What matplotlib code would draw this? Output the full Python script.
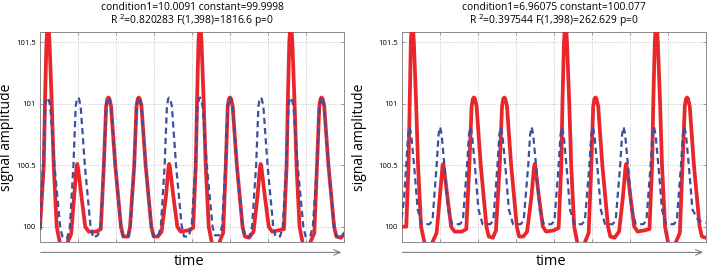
import numpy as np
import matplotlib
matplotlib.use('Agg')
import matplotlib.pyplot as plt

plt.rcParams['font.family'] = ['Open Sans', 'DejaVu Sans']

# ---- data: (sample index, signal value) vertices ----
# left panel, measured signal (red)
left_red = [(0, 99.99), (5, 100.5), (6.5, 101.0), (8.5, 101.5), (10.5, 101.7), (12.5, 101.5),
            (15.5, 101.0), (18, 100.5), (22, 100.0), (27, 99.84), (34, 99.84), (41, 99.94),
            (45, 100.25), (48, 100.48), (49, 100.51), (50, 100.48), (54.5, 100.25), (59.5, 100.0),
            (64, 99.96), (74, 99.96), (80, 99.98),
            (84, 100.5), (87, 100.98), (88.7, 101.04), (90, 101.05), (91.3, 101.04), (93.5, 100.98),
            (99, 100.5), (106.5, 100.0), (109.5, 99.92), (116, 99.92), (118.5, 100.0),
            (124, 100.5), (127, 100.98), (128.7, 101.04), (130, 101.05), (131.3, 101.04), (133.5, 100.98),
            (139, 100.5), (146.5, 100.0), (149.5, 99.92), (155, 99.92), (160, 99.96),
            (165.8, 100.25), (169, 100.48), (170, 100.51), (171, 100.48), (175.4, 100.25), (180.7, 100.0),
            (185, 99.96), (195, 99.97), (201.5, 99.99),
            (205, 100.5), (206.5, 101.0), (208.5, 101.5), (210.5, 101.7), (212.5, 101.5), (215.5, 101.0),
            (218, 100.5), (222, 100.0), (227, 99.84), (234, 99.84), (241, 99.95),
            (244.5, 100.5), (247, 100.98), (248.7, 101.04), (250, 101.05), (251.3, 101.04), (253.5, 100.98),
            (259, 100.5), (266.5, 100.0), (269.5, 99.92), (275, 99.91), (281, 99.96),
            (286.2, 100.25), (289.4, 100.48), (290.4, 100.51), (291.4, 100.48), (295.8, 100.25), (301, 100.0),
            (305.5, 99.96), (314, 99.97), (321, 99.98),
            (324.5, 100.5), (326, 101.0), (328, 101.5), (330, 101.7), (332, 101.5), (335, 101.0),
            (337.5, 100.5), (341.5, 100.0), (346.5, 99.84), (353.5, 99.84), (361, 99.95),
            (364.5, 100.5), (367.5, 100.98), (369.2, 101.04), (370.5, 101.05), (371.8, 101.04), (374, 100.98),
            (379.5, 100.5), (387, 100.0), (390, 99.92), (396, 99.91), (400, 99.94)]

# left panel, model fit (blue dashed)
left_fit = [(0, 99.99), (4, 100.5), (7, 100.98), (8.7, 101.04), (10, 101.05), (11.3, 101.04), (13.5, 100.98),
            (19, 100.5), (26.5, 100.0), (29.5, 99.92), (35, 99.9), (39, 99.97),
            (44, 100.5), (47, 100.98), (48.7, 101.04), (50, 101.05), (51.3, 101.04), (53.5, 100.98),
            (59, 100.5), (66.5, 100.0), (70, 99.91), (76, 99.93), (79.5, 99.99),
            (84, 100.5), (87, 100.98), (88.7, 101.04), (90, 101.05), (91.3, 101.04), (93.5, 100.98),
            (99, 100.5), (106.5, 100.0), (109.5, 99.92), (115.5, 99.92), (119, 100.0),
            (124, 100.5), (127, 100.98), (128.7, 101.04), (130, 101.05), (131.3, 101.04), (133.5, 100.98),
            (139, 100.5), (146.5, 100.0), (149.5, 99.92), (155.5, 99.92), (159, 100.0),
            (164, 100.5), (167, 100.98), (168.7, 101.04), (170, 101.05), (171.3, 101.04), (173.5, 100.98),
            (179, 100.5), (186.5, 100.0), (189.5, 99.92), (195.5, 99.92), (199.5, 100.0),
            (204.5, 100.5), (207.5, 100.98), (209.2, 101.04), (210.5, 101.05), (211.8, 101.04), (214, 100.98),
            (219.5, 100.5), (227, 100.0), (230, 99.93), (236, 99.93), (239.5, 100.0),
            (244, 100.5), (247, 100.98), (248.7, 101.04), (250, 101.05), (251.3, 101.04), (253.5, 100.98),
            (259, 100.5), (266.5, 100.0), (269.5, 99.92), (275.5, 99.92), (279, 100.0),
            (284.4, 100.5), (287.4, 100.98), (289.1, 101.04), (290.4, 101.05), (291.7, 101.04), (293.9, 100.98),
            (299.4, 100.5), (306.9, 100.0), (309.9, 99.92), (315.9, 99.92), (319.4, 100.0),
            (324, 100.5), (327, 100.98), (328.7, 101.04), (330, 101.05), (331.3, 101.04), (333.5, 100.98),
            (339, 100.5), (346.5, 100.0), (349.5, 99.92), (355.5, 99.92), (359, 100.0),
            (364.5, 100.5), (367.5, 100.98), (369.2, 101.04), (370.5, 101.05), (371.8, 101.04), (374, 100.98),
            (379.5, 100.5), (387, 100.0), (390, 99.92), (396, 99.91), (400, 99.94)]

# right panel, measured signal (red)
right_red = [(0, 100.0), (6, 100.0), (9, 100.5), (10.5, 101.0), (12, 101.5), (14, 101.7), (16, 101.5),
             (19, 101.0), (21.5, 100.5), (25.5, 100.0), (31, 99.84), (38, 99.84), (46, 99.95),
             (50.3, 100.25), (53.5, 100.48), (54.5, 100.51), (55.5, 100.48), (60, 100.25), (65, 100.0),
             (69.5, 99.96), (79, 99.96), (85, 99.98),
             (89, 100.5), (92, 100.98), (93.7, 101.04), (95, 101.05), (96.3, 101.04), (98.5, 100.98),
             (104, 100.5), (111.5, 100.0), (114.5, 99.92), (120, 99.91), (124, 99.97),
             (129, 100.5), (132, 100.98), (133.7, 101.04), (135, 101.05), (136.3, 101.04), (138.5, 100.98),
             (144, 100.5), (151.5, 100.0), (154.5, 99.92), (160, 99.92), (165, 99.96),
             (170.8, 100.25), (174, 100.48), (175, 100.51), (176, 100.48), (180.4, 100.25), (185.7, 100.0),
             (190, 99.96), (200, 99.97), (206.5, 99.99),
             (210, 100.5), (211.5, 101.0), (213.5, 101.5), (215.5, 101.7), (217.5, 101.5), (220.5, 101.0),
             (223, 100.5), (227, 100.0), (232, 99.84), (239, 99.84), (246, 99.95),
             (249.5, 100.5), (252, 100.98), (253.7, 101.04), (255, 101.05), (256.3, 101.04), (258.5, 100.98),
             (264, 100.5), (271.5, 100.0), (274.5, 99.92), (280, 99.91), (286, 99.96),
             (291.2, 100.25), (294.4, 100.48), (295.4, 100.51), (296.4, 100.48), (300.8, 100.25), (306, 100.0),
             (310.5, 99.96), (319, 99.97), (326, 99.98),
             (329.5, 100.5), (331, 101.0), (333, 101.5), (335, 101.7), (337, 101.5), (340, 101.0),
             (342.5, 100.5), (346.5, 100.0), (351.5, 99.84), (358.5, 99.84), (366, 99.95),
             (369.5, 100.5), (372.5, 100.98), (374.2, 101.04), (375.5, 101.05), (376.8, 101.04), (379, 100.98),
             (384.5, 100.5), (392, 100.0), (395, 99.92), (400, 99.91)]

# right panel, model fit (blue dashed)
right_fit = [(0, 100.07), (3, 100.22), (6, 100.5), (8.5, 100.75), (10.5, 100.81), (12.5, 100.75),
             (16.8, 100.46), (21, 100.14), (26.5, 100.02), (36.5, 100.02), (40.5, 100.05),
             (46, 100.5), (48.5, 100.75), (50.5, 100.81), (52.5, 100.75), (56.8, 100.46), (61, 100.14),
             (66.5, 100.02), (76.5, 100.02), (80.5, 100.05),
             (86, 100.5), (88.5, 100.75), (90.5, 100.81), (92.5, 100.75), (96.8, 100.46), (101, 100.14),
             (106.5, 100.02), (116.5, 100.02), (120.5, 100.05),
             (126, 100.5), (128.5, 100.75), (130.5, 100.81), (132.5, 100.75), (136.8, 100.46), (141, 100.14),
             (146.5, 100.02), (156.5, 100.02), (160.5, 100.05),
             (166.5, 100.5), (169, 100.75), (171, 100.81), (173, 100.75), (177.3, 100.46), (181.5, 100.14),
             (187, 100.02), (197, 100.02), (201, 100.05),
             (206.5, 100.5), (209, 100.75), (211, 100.81), (213, 100.75), (217.3, 100.46), (221.5, 100.14),
             (227, 100.02), (237, 100.02), (241, 100.05),
             (247, 100.5), (249.5, 100.75), (251.5, 100.81), (253.5, 100.75), (257.8, 100.46), (262, 100.14),
             (267.5, 100.02), (277.5, 100.02), (281.5, 100.05),
             (287.5, 100.5), (290, 100.75), (292, 100.81), (294, 100.75), (298.3, 100.46), (302.5, 100.14),
             (308, 100.02), (318, 100.02), (322, 100.05),
             (327.5, 100.5), (330, 100.75), (332, 100.81), (334, 100.75), (338.3, 100.46), (342.5, 100.14),
             (348, 100.02), (358, 100.02), (362, 100.05),
             (367.5, 100.5), (370, 100.75), (372, 100.81), (374, 100.75), (378.3, 100.46), (382.5, 100.14),
             (390.5, 100.05), (400, 100.03)]

titles = [["condition1=10.0091 constant=99.9998",
           r"R $^2$=0.820283 F(1,398)=1816.6 p=0"],
          ["condition1=6.96075 constant=100.077",
           r"R $^2$=0.397544 F(1,398)=262.629 p=0"]]
ytick_vals = [100, 100.5, 101, 101.5]
ytick_labels = ["100", "100.5", "101", "101.5"]
xtick_vals = [0, 50, 100, 150, 200, 250, 300, 350, 400]

red = '#e8262b'
blue = '#3d4f9e'
frame = '#8a8a8a'

W, H = 708, 269
fig = plt.figure(figsize=(W / 100, H / 100), dpi=100)

panels = [(40, left_red, left_fit, titles[0], -0.085),
          (401.7, right_red, right_fit, titles[1], -0.115)]

for x0, sig, fit, tt, ylab_x in panels:
    ax = fig.add_axes([x0 / W, (H - 242.3) / H, 304 / W, 210 / H])
    sx, sy = zip(*sig)
    fx, fy = zip(*fit)
    ax.plot(sx, sy, color=red, lw=2.7, solid_joinstyle='round', zorder=3)
    ax.plot(fx, fy, color=blue, lw=1.6, ls=(0, (2.8, 1.8)), zorder=4)
    ax.set_xlim(0, 400)
    ax.set_ylim(99.873, 101.58)
    ax.set_xticks(xtick_vals)
    ax.set_xticklabels([])
    ax.set_yticks(ytick_vals)
    ax.set_yticklabels(ytick_labels, fontsize=5.5)
    ax.tick_params(direction='in', length=2.5, width=0.6, color=frame, pad=3)
    ax.tick_params(axis='x', bottom=True, top=True)
    ax.tick_params(axis='y', left=True, right=True)
    ax.grid(True, ls=(0, (1, 2)), color='#b0b0b0', lw=0.6)
    for s in ax.spines.values():
        s.set_color(frame)
        s.set_linewidth(0.7)
    ax.set_ylabel('signal amplitude', fontsize=10)
    ax.yaxis.set_label_coords(ylab_x, 0.5)
    ax.text(0.5, 1.12, tt[0], transform=ax.transAxes, ha='center', va='center', fontsize=7.4)
    ax.text(0.5, 1.056, tt[1], transform=ax.transAxes, ha='center', va='center', fontsize=7.4)
    ax.annotate('', xy=(1.0, -0.048), xytext=(-0.007, -0.048), xycoords='axes fraction',
                arrowprops=dict(arrowstyle='->,head_length=0.45,head_width=0.2',
                                color='#6e6e6e', lw=0.7),
                annotation_clip=False)
    ax.text(0.49, -0.093, 'time', transform=ax.transAxes, ha='center', va='center', fontsize=10.5)

fig.savefig('out.png', dpi=100)
